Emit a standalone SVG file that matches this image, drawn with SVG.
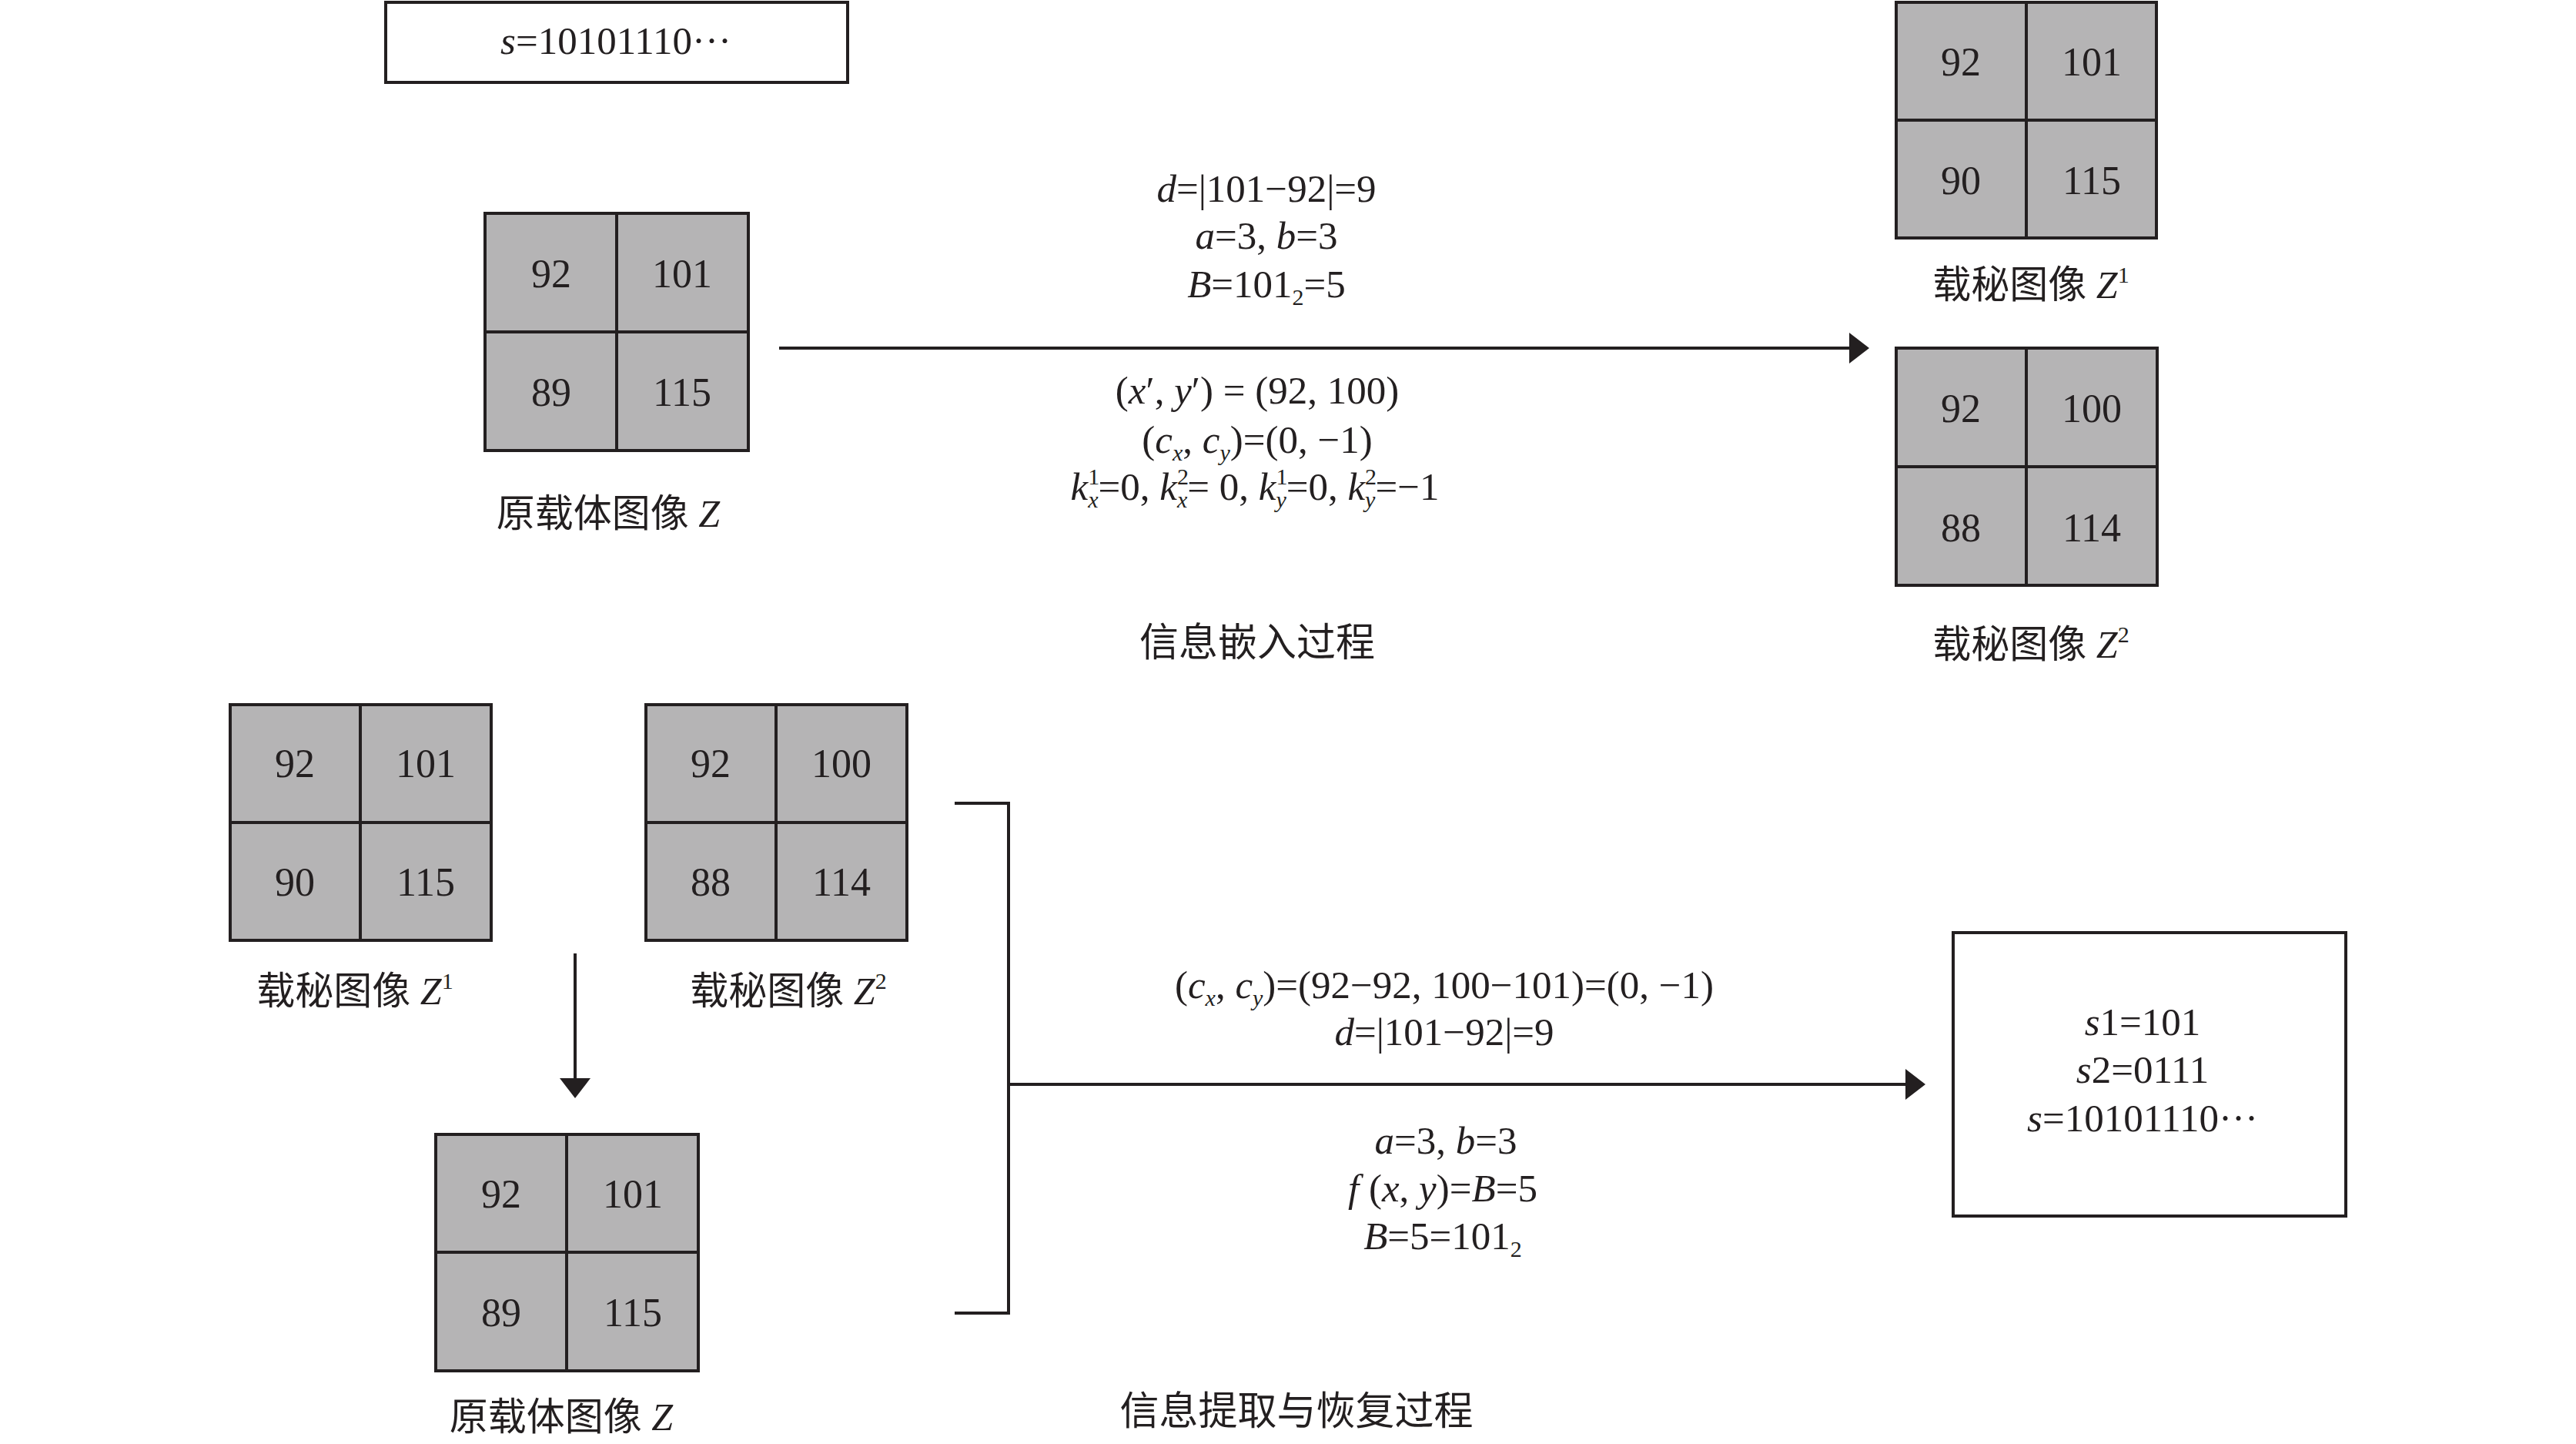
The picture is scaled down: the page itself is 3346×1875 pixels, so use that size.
<svg xmlns="http://www.w3.org/2000/svg" width="3346" height="1875" viewBox="0 0 3346 1875">
<style>
.bg{fill:#ffffff}
.ln{stroke:#231f20;stroke-width:4;fill:none}
.box{fill:#ffffff;stroke:#231f20;stroke-width:4}
.cell{fill:#b5b4b5;stroke:#231f20;stroke-width:4}
text{font-family:"Liberation Serif","Noto Sans CJK SC",serif;fill:#231f20}
.n{font-size:52px;text-anchor:middle}
.lab{font-size:50px;text-anchor:middle}
.f{font-size:51px;text-anchor:middle}
.t{font-size:51px;text-anchor:middle}
.i{font-style:italic}
.s{font-size:30px}
</style>
<defs>
<marker id="ah" markerUnits="userSpaceOnUse" markerWidth="30" markerHeight="44" refX="18" refY="20" orient="auto">
<path d="M0,0 L26,20 L0,40 Z" fill="#231f20"/>
</marker>
</defs>
<rect class="bg" x="0" y="0" width="3346" height="1875"/>

<g id="secret-box">
<rect class="box" x="501" y="3" width="600" height="104"/>
<text class="f" x="800" y="70"><tspan class="i">s</tspan>=10101110···</text>
</g>

<g id="cover-Z-top">
<rect class="cell" x="630" y="277" width="342" height="308"/>
<line class="ln" x1="801" y1="277" x2="801" y2="585"/>
<line class="ln" x1="630" y1="431" x2="972" y2="431"/>
<text class="n" x="716" y="373">92</text>
<text class="n" x="886" y="373">101</text>
<text class="n" x="716" y="527">89</text>
<text class="n" x="886" y="527">115</text>
<text class="lab" x="790" y="684">原载体图像 <tspan class="i">Z</tspan></text>
</g>

<g id="stego-Z1-top">
<rect class="cell" x="2463" y="3" width="338" height="306"/>
<line class="ln" x1="2632" y1="3" x2="2632" y2="309"/>
<line class="ln" x1="2463" y1="156" x2="2801" y2="156"/>
<text class="n" x="2547" y="98">92</text>
<text class="n" x="2717" y="98">101</text>
<text class="n" x="2547" y="252">90</text>
<text class="n" x="2717" y="252">115</text>
<text class="lab" x="2638" y="387">载秘图像 <tspan class="i">Z</tspan><tspan class="s" dy="-20">1</tspan></text>
</g>

<g id="stego-Z2-top">
<rect class="cell" x="2463" y="452" width="339" height="308"/>
<line class="ln" x1="2632" y1="452" x2="2632" y2="760"/>
<line class="ln" x1="2463" y1="606" x2="2802" y2="606"/>
<text class="n" x="2547" y="548">92</text>
<text class="n" x="2717" y="548">100</text>
<text class="n" x="2547" y="703">88</text>
<text class="n" x="2717" y="703">114</text>
<text class="lab" x="2638" y="854">载秘图像 <tspan class="i">Z</tspan><tspan class="s" dy="-20">2</tspan></text>
</g>

<g id="embed-labels">
<text class="f" x="1645" y="262"><tspan class="i">d</tspan>=|101−92|=9</text>
<text class="f" x="1645" y="323"><tspan class="i">a</tspan>=3, <tspan class="i">b</tspan>=3</text>
<text class="f" x="1645" y="386"><tspan class="i">B</tspan>=101<tspan class="s" dy="10">2</tspan><tspan dy="-10">=5</tspan></text>
<text class="f" x="1633" y="524">(<tspan class="i">x</tspan>′, <tspan class="i">y</tspan>′) = (92, 100)</text>
<text class="f" x="1633" y="588">(<tspan class="i">c</tspan><tspan class="i s" dy="10">x</tspan><tspan dy="-10">, </tspan><tspan class="i">c</tspan><tspan class="i s" dy="10">y</tspan><tspan dy="-10">)=(0, −1)</tspan></text>
<text class="f" x="1630" y="649"><tspan class="i">k</tspan><tspan class="s" dy="-20">1</tspan><tspan class="i s" dx="-15" dy="30">x</tspan><tspan dy="-10">=0, </tspan><tspan class="i">k</tspan><tspan class="s" dy="-20">2</tspan><tspan class="i s" dx="-15" dy="30">x</tspan><tspan dy="-10">= 0, </tspan><tspan class="i">k</tspan><tspan class="s" dy="-20">1</tspan><tspan class="i s" dx="-15" dy="30">y</tspan><tspan dy="-10">=0, </tspan><tspan class="i">k</tspan><tspan class="s" dy="-20">2</tspan><tspan class="i s" dx="-15" dy="30">y</tspan><tspan dy="-10">=−1</tspan></text>
<text class="t" x="1633" y="852">信息嵌入过程</text>
</g>

<g id="stego-Z1-bottom">
<rect class="cell" x="299" y="915" width="339" height="306"/>
<line class="ln" x1="468" y1="915" x2="468" y2="1221"/>
<line class="ln" x1="299" y1="1068" x2="638" y2="1068"/>
<text class="n" x="383" y="1009">92</text>
<text class="n" x="553" y="1009">101</text>
<text class="n" x="383" y="1163">90</text>
<text class="n" x="553" y="1163">115</text>
<text class="lab" x="461" y="1304">载秘图像 <tspan class="i">Z</tspan><tspan class="s" dy="-20">1</tspan></text>
</g>

<g id="stego-Z2-bottom">
<rect class="cell" x="839" y="915" width="339" height="306"/>
<line class="ln" x1="1008" y1="915" x2="1008" y2="1221"/>
<line class="ln" x1="839" y1="1068" x2="1178" y2="1068"/>
<text class="n" x="923" y="1009">92</text>
<text class="n" x="1093" y="1009">100</text>
<text class="n" x="923" y="1163">88</text>
<text class="n" x="1093" y="1163">114</text>
<text class="lab" x="1024" y="1304">载秘图像 <tspan class="i">Z</tspan><tspan class="s" dy="-20">2</tspan></text>
</g>

<g id="cover-Z-bottom">
<rect class="cell" x="566" y="1473" width="341" height="307"/>
<line class="ln" x1="736" y1="1473" x2="736" y2="1780"/>
<line class="ln" x1="566" y1="1626" x2="907" y2="1626"/>
<text class="n" x="651" y="1568">92</text>
<text class="n" x="822" y="1568">101</text>
<text class="n" x="651" y="1722">89</text>
<text class="n" x="822" y="1722">115</text>
<text class="lab" x="729" y="1857">原载体图像 <tspan class="i">Z</tspan></text>
</g>

<g id="result-box">
<rect class="box" x="2537" y="1211" width="510" height="368"/>
<text class="f" x="2783" y="1344"><tspan class="i">s</tspan>1=101</text>
<text class="f" x="2783" y="1406"><tspan class="i">s</tspan>2=0111</text>
<text class="f" x="2783" y="1469"><tspan class="i">s</tspan>=10101110···</text>
</g>

<g id="extract-labels">
<text class="f" x="1876" y="1296">(<tspan class="i">c</tspan><tspan class="i s" dy="10">x</tspan><tspan dy="-10">, </tspan><tspan class="i">c</tspan><tspan class="i s" dy="10">y</tspan><tspan dy="-10">)=(92−92, 100−101)=(0, −1)</tspan></text>
<text class="f" x="1876" y="1357"><tspan class="i">d</tspan>=|101−92|=9</text>
<text class="f" x="1878" y="1498"><tspan class="i">a</tspan>=3, <tspan class="i">b</tspan>=3</text>
<text class="f" x="1874" y="1560"><tspan class="i">f</tspan> (<tspan class="i">x</tspan>, <tspan class="i">y</tspan>)=<tspan class="i">B</tspan>=5</text>
<text class="f" x="1874" y="1622"><tspan class="i">B</tspan>=5=101<tspan class="s" dy="10">2</tspan></text>
<text class="t" x="1684" y="1850">信息提取与恢复过程</text>
</g>

<g id="connectors">
<line class="ln" x1="1012" y1="452" x2="2420" y2="452" marker-end="url(#ah)"/>
<line class="ln" x1="747" y1="1238" x2="747" y2="1418" marker-end="url(#ah)"/>
<polyline class="ln" points="1240,1043 1310,1043 1310,1705 1240,1705"/>
<line class="ln" x1="1310" y1="1408" x2="2493" y2="1408" marker-end="url(#ah)"/>
</g>
</svg>
